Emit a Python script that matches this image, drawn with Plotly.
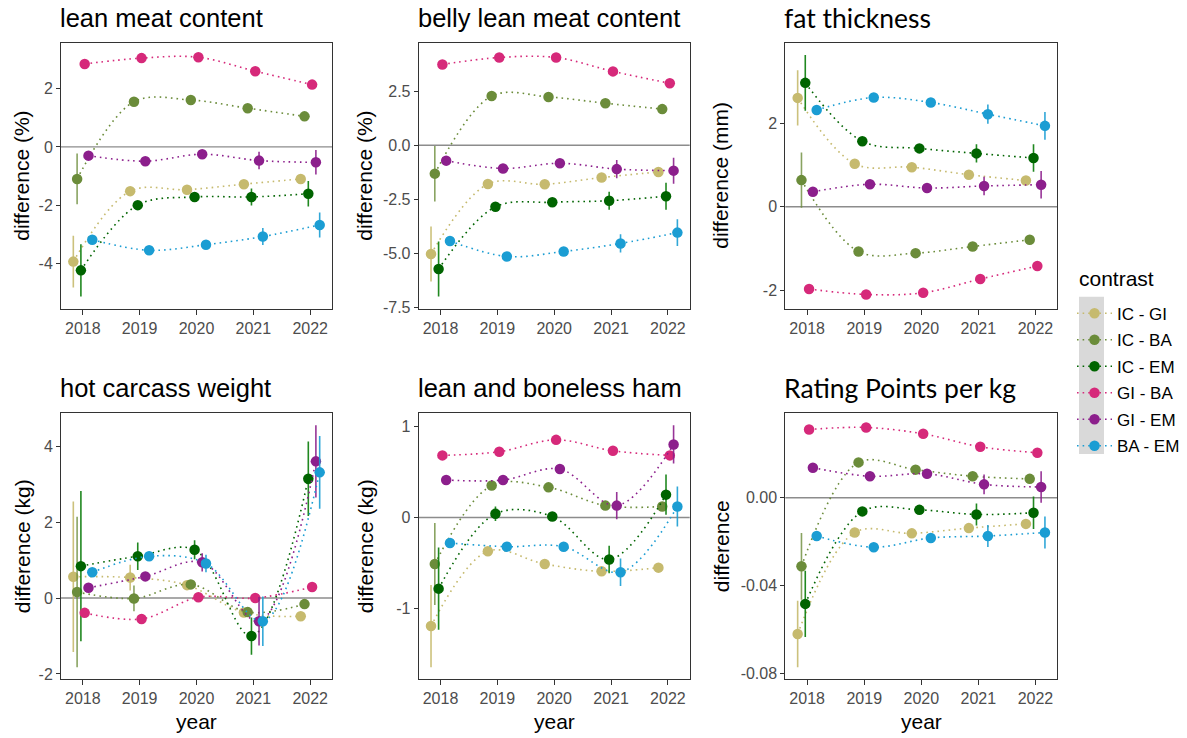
import plotly.graph_objects as go

W, H = 1187, 738
OFF = 0  # body margin removed by post_script below

years = [2018, 2019, 2020, 2021, 2022]
contrasts = ["IC - GI", "IC - BA", "IC - EM", "GI - BA", "GI - EM", "BA - EM"]
colors = ["#C6BA6E", "#6B8C3A", "#006400", "#D6297A", "#8C1F8C", "#1B9DD3"]
err_colors = ["rgba(198,186,110,0.9)", "rgba(107,140,58,0.8)", "rgba(20,130,20,0.95)",
              "rgba(214,41,122,0.9)", "rgba(140,31,140,0.9)", "rgba(27,157,211,0.9)"]

titles = ["lean meat content", "belly lean meat content", "fat thickness",
          "hot carcass weight", "lean and boneless ham", "Rating Points per kg"]
ylabels = ["difference (%)", "difference (%)", "difference (mm)",
           "difference (kg)", "difference (kg)", "difference"]

# ---- panel 1: lean meat content (%) ----
lean_est = [
    [-3.94, -1.52, -1.47, -1.28, -1.10],
    [-1.10, 1.55, 1.61, 1.33, 1.05],
    [-4.24, -2.00, -1.72, -1.72, -1.61],
    [2.85, 3.05, 3.08, 2.60, 2.14],
    [-0.30, -0.49, -0.25, -0.47, -0.53],
    [-3.19, -3.55, -3.36, -3.08, -2.68],
]
lean_se = [
    [0.89, 0.10, 0.10, 0.10, 0.10],
    [0.87, 0.10, 0.10, 0.10, 0.10],
    [0.90, 0.12, 0.12, 0.29, 0.44],
    [0.08, 0.08, 0.08, 0.08, 0.08],
    [0.10, 0.10, 0.10, 0.30, 0.42],
    [0.10, 0.12, 0.12, 0.29, 0.43],
]
# ---- panel 2: belly lean meat content (%) ----
belly_est = [
    [-5.02, -1.79, -1.80, -1.49, -1.23],
    [-1.31, 2.27, 2.23, 1.94, 1.67],
    [-5.71, -2.84, -2.63, -2.56, -2.35],
    [3.73, 4.05, 4.05, 3.41, 2.86],
    [-0.71, -1.07, -0.83, -1.10, -1.17],
    [-4.42, -5.13, -4.90, -4.53, -4.03],
]
belly_se = [
    [1.27, 0.15, 0.15, 0.15, 0.15],
    [1.28, 0.15, 0.15, 0.15, 0.15],
    [1.27, 0.18, 0.18, 0.42, 0.62],
    [0.12, 0.12, 0.12, 0.12, 0.12],
    [0.15, 0.15, 0.15, 0.42, 0.60],
    [0.15, 0.18, 0.18, 0.42, 0.62],
]
# ---- panel 3: fat thickness (mm) ----
fat_est = [
    [2.61, 1.03, 0.95, 0.77, 0.63],
    [0.64, -1.07, -1.11, -0.95, -0.79],
    [2.97, 1.57, 1.40, 1.28, 1.17],
    [-1.97, -2.10, -2.06, -1.73, -1.42],
    [0.36, 0.54, 0.45, 0.50, 0.53],
    [2.32, 2.62, 2.50, 2.22, 1.94],
]
fat_se = [
    [0.66, 0.05, 0.05, 0.05, 0.05],
    [0.66, 0.05, 0.05, 0.05, 0.05],
    [0.67, 0.07, 0.07, 0.22, 0.33],
    [0.05, 0.05, 0.05, 0.05, 0.05],
    [0.05, 0.05, 0.05, 0.22, 0.33],
    [0.05, 0.07, 0.07, 0.23, 0.33],
]
# ---- panel 4: hot carcass weight (kg) ----
hcw_est = [
    [0.56, 0.54, 0.34, -0.38, -0.48],
    [0.16, -0.01, 0.36, -0.37, -0.16],
    [0.84, 1.10, 1.27, -1.00, 3.14],
    [-0.39, -0.55, 0.02, 0.00, 0.29],
    [0.27, 0.57, 0.94, -0.61, 3.60],
    [0.68, 1.10, 0.91, -0.61, 3.31],
]
hcw_se = [
    [1.98, 0.34, 0.10, 0.10, 0.10],
    [1.98, 0.34, 0.10, 0.10, 0.10],
    [1.98, 0.36, 0.25, 0.49, 0.98],
    [0.10, 0.10, 0.10, 0.10, 0.10],
    [0.10, 0.10, 0.24, 0.64, 0.95],
    [0.10, 0.12, 0.23, 0.65, 0.96],
]
# ---- panel 5: lean and boneless ham (kg) ----
ham_est = [
    [-1.19, -0.37, -0.51, -0.59, -0.55],
    [-0.51, 0.35, 0.33, 0.13, 0.12],
    [-0.78, 0.04, 0.01, -0.46, 0.25],
    [0.68, 0.72, 0.85, 0.73, 0.68],
    [0.41, 0.41, 0.53, 0.13, 0.80],
    [-0.28, -0.32, -0.32, -0.60, 0.12],
]
ham_se = [
    [0.45, 0.03, 0.03, 0.03, 0.03],
    [0.45, 0.04, 0.03, 0.03, 0.03],
    [0.45, 0.08, 0.03, 0.15, 0.22],
    [0.03, 0.03, 0.03, 0.03, 0.03],
    [0.03, 0.03, 0.03, 0.15, 0.21],
    [0.03, 0.03, 0.03, 0.15, 0.22],
]
# ---- panel 6: Rating Points per kg ----
rp_est = [
    [-0.0620, -0.0158, -0.0162, -0.0138, -0.0119],
    [-0.0312, 0.0161, 0.0128, 0.0098, 0.0086],
    [-0.0483, -0.0062, -0.0055, -0.0076, -0.0068],
    [0.0311, 0.0320, 0.0291, 0.0232, 0.0205],
    [0.0137, 0.0098, 0.0109, 0.0061, 0.0049],
    [-0.0174, -0.0225, -0.0183, -0.0174, -0.0158],
]
rp_se = [
    [0.0151, 0.0010, 0.0010, 0.0010, 0.0010],
    [0.0152, 0.0010, 0.0010, 0.0010, 0.0010],
    [0.0151, 0.0012, 0.0012, 0.0050, 0.0074],
    [0.0010, 0.0010, 0.0010, 0.0010, 0.0010],
    [0.0010, 0.0010, 0.0010, 0.0045, 0.0072],
    [0.0010, 0.0012, 0.0012, 0.0050, 0.0073],
]

panel_est = [lean_est, belly_est, fat_est, hcw_est, ham_est, rp_est]
panel_se = [lean_se, belly_se, fat_se, hcw_se, ham_se, rp_se]

yticks = [
    [-4, -2, 0, 2],
    [-7.5, -5.0, -2.5, 0.0, 2.5],
    [-2, 0, 2],
    [-2, 0, 2, 4],
    [-1, 0, 1],
    [-0.08, -0.04, 0.00],
]
ytick_text = [
    ["-4", "-2", "0", "2"],
    ["-7.5", "-5.0", "-2.5", "0.0", "2.5"],
    ["-2", "0", "2"],
    ["-2", "0", "2", "4"],
    ["-1", "0", "1"],
    ["-0.08", "-0.04", "0.00"],
]

# ---------- layout geometry (screen pixels) ----------
cols_px = [(61, 332), (418.7, 689.7), (785.3, 1057.3)]
ylab_x = [22, 365, 721]
rows_px = [(43.3, 312), (417.7, 686.7)]
DODGE = 0.4


def px(v):
    return (v - OFF) / W


def py(v):
    return 1 - (v - OFF) / H


fig = go.Figure()
font_main = "Liberation Sans, Arial, sans-serif"
font_alt = "Lato, Open Sans, sans-serif"

layout = dict(
    width=W, height=H,
    margin=dict(l=0, r=0, t=0, b=0),
    paper_bgcolor="white", plot_bgcolor="white",
    font=dict(family=font_main, color="#000000"),
    showlegend=True,
)
annotations = []
shapes = []

n = len(contrasts)
for p in range(6):
    r, c = divmod(p, 3)
    ax = "" if p == 0 else str(p + 1)
    x0, x1 = cols_px[c]
    yt, yb = rows_px[r]
    lo = min(e - s for er, sr in zip(panel_est[p], panel_se[p]) for e, s in zip(er, sr))
    hi = max(e + s for er, sr in zip(panel_est[p], panel_se[p]) for e, s in zip(er, sr))
    span = hi - lo
    yr = [lo - 0.05 * span, hi + 0.05 * span]
    xlo, xhi = years[0] - DODGE / 2 * (5 / 6), years[-1] + DODGE / 2 * (5 / 6)
    xspan = xhi - xlo
    xr = [xlo - 0.05 * xspan, xhi + 0.05 * xspan]

    layout["xaxis" + ax] = dict(
        domain=[px(x0), px(x1)], anchor="y" + ax, range=xr,
        tickvals=years, ticktext=[str(y) for y in years],
        showline=True, mirror=True, linecolor="#333333", linewidth=1,
        ticks="outside", ticklen=5, tickcolor="#333333", tickwidth=1,
        tickfont=dict(size=16, color="#4D4D4D", family=font_main),
        showgrid=False, zeroline=False, fixedrange=True,
    )
    layout["yaxis" + ax] = dict(
        domain=[py(yb), py(yt)], anchor="x" + ax, range=yr,
        tickvals=yticks[p], ticktext=ytick_text[p],
        showline=True, mirror=True, linecolor="#333333", linewidth=1,
        ticks="outside", ticklen=4, tickcolor="#333333", tickwidth=1,
        tickfont=dict(size=16, color="#4D4D4D", family=font_main),
        showgrid=False, zeroline=False, fixedrange=True,
    )
    shapes.append(dict(type="line", xref="x" + ax + " domain", yref="y" + ax,
                       x0=0, x1=1, y0=0, y1=0,
                       line=dict(color="#8C8C8C", width=1.4), layer="below"))

    for i, name in enumerate(contrasts):
        off = (i - (n - 1) / 2) * DODGE / n
        xs = [y + off for y in years]
        fig.add_trace(go.Scatter(
            x=xs, y=panel_est[p][i],
            mode="lines+markers",
            line=dict(color=colors[i], width=1.6, dash="1.6px,4px", shape="spline", smoothing=1.0),
            marker=dict(color=colors[i], size=10.5),
            error_y=dict(type="data", array=panel_se[p][i], visible=True,
                         color=err_colors[i], thickness=1.6, width=0),
            name=name, legendgroup=name, showlegend=(p == 0),
            xaxis="x" + ax, yaxis="y" + ax,
            hovertemplate="%{y}<extra>" + name + "</extra>",
        ))

    tfont = font_alt if p in (2, 5) else font_main
    tsize = 26.5 if p in (2, 5) else 25.5
    annotations.append(dict(
        text=titles[p], xref="paper", yref="paper",
        x=px(x0 - 3), y=py(yt - 25), xanchor="left", yanchor="middle",
        showarrow=False, font=dict(size=tsize, family=tfont, color="#000000")))
    annotations.append(dict(
        text=ylabels[p], xref="paper", yref="paper",
        x=px(ylab_x[c]), y=py((yt + yb) / 2), xanchor="center", yanchor="middle",
        textangle=-90, showarrow=False,
        font=dict(size=21, family=font_main, color="#000000")))
    if r == 1:
        annotations.append(dict(
            text="year", xref="paper", yref="paper",
            x=px((x0 + x1) / 2), y=py(729), xanchor="center", yanchor="middle",
            showarrow=False, font=dict(size=21, family=font_main, color="#000000")))

# legend title and key background
annotations.append(dict(
    text="contrast", xref="paper", yref="paper",
    x=px(1077), y=py(282), xanchor="left", yanchor="middle",
    showarrow=False, font=dict(size=21, family=font_main, color="#000000")))
shapes.append(dict(type="rect", xref="paper", yref="paper",
                   x0=px(1079), x1=px(1104), y0=py(459), y1=py(300),
                   fillcolor="#D9D9D9", line=dict(width=0), layer="below"))

layout["annotations"] = annotations
layout["shapes"] = shapes
layout["legend"] = dict(
    x=px(1072), y=py(299), xanchor="left", yanchor="top",
    bgcolor="rgba(0,0,0,0)", borderwidth=0,
    font=dict(size=17, family=font_main, color="#000000"),
    itemwidth=35, traceorder="grouped", tracegroupgap=1.4,
)
fig.update_layout(**layout)
fig.write_html("out.html",
               config={"displayModeBar": False},
               post_script="document.body.style.margin='0';document.body.style.padding='0';")
